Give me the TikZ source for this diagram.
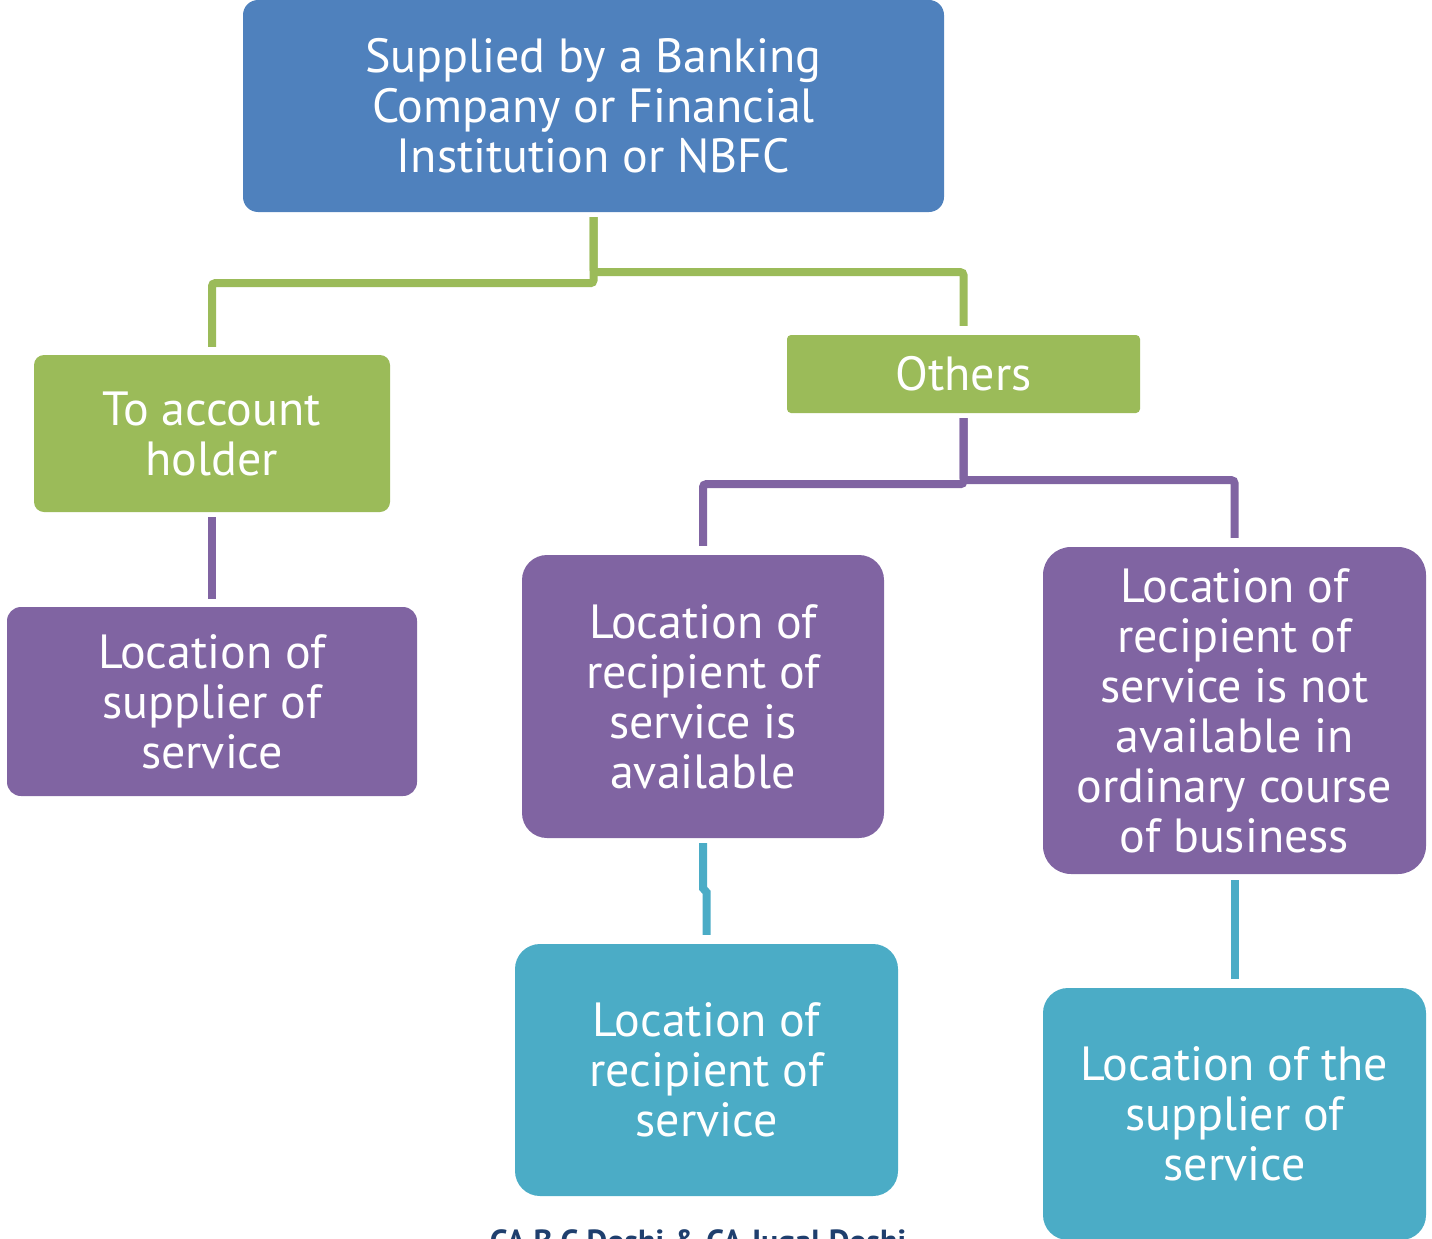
\documentclass[tikz,border=0pt]{standalone}
\usepackage{fontspec}
\setmainfont{PT Sans}
\definecolor{bankblue}{HTML}{4F81BD}
\definecolor{bankgreen}{HTML}{9BBB59}
\definecolor{bankpurple}{HTML}{8064A2}
\definecolor{bankteal}{HTML}{4BACC6}
\definecolor{creditblue}{HTML}{1F3F6E}
\begin{document}
\begin{tikzpicture}[x=1pt,y=-1pt,
    box/.style={rectangle, text=white, align=center, inner sep=0pt,
      font=\fontsize{48}{50}\selectfont},
    link/.style={line width=8pt, rounded corners=3pt}]
    \useasboundingbox (0,0) rectangle (1432,1239);

    \node[box, fill=bankblue, rounded corners=15pt, minimum width=701pt, minimum height=212pt]
      (bank) at (593.5,106) {Supplied by a Banking\\Company or Financial\\Institution or NBFC};
    \node[box, fill=bankgreen, rounded corners=10pt, minimum width=356pt, minimum height=157pt]
      (holder) at (212,433.5) {To account\\holder};
    \node[box, fill=bankgreen, rounded corners=4pt, minimum width=353pt, minimum height=78pt]
      (others) at (963.5,374) {Others};
    \node[box, fill=bankpurple, rounded corners=14pt, minimum width=410pt, minimum height=189pt]
      (supplier) at (212,701.5) {Location of\\supplier of\\service};
    \node[box, fill=bankpurple, rounded corners=25pt, minimum width=362pt, minimum height=283pt]
      (avail) at (703,696.5) {Location of\\recipient of\\service is\\available};
    \node[box, fill=bankpurple, rounded corners=28pt, minimum width=383pt, minimum height=327pt]
      (notavail) at (1234.5,710.5) {Location of\\recipient of\\service is not\\available in\\ordinary course\\of business};
    \node[box, fill=bankteal, rounded corners=25pt, minimum width=383pt, minimum height=252pt]
      (recipient) at (706.5,1070) {Location of\\recipient of\\service};
    \node[box, fill=bankteal, rounded corners=25pt, minimum width=383pt, minimum height=252pt]
      (thesupplier) at (1234.5,1114) {Location of the\\supplier of\\service};
    \node[anchor=north, inner sep=0pt, text=creditblue, font=\fontsize{32}{38}\selectfont\bfseries]
      (credit) at (698,1229) {CA B C Doshi \& CA Jugal Doshi};

    \draw[link, bankgreen] ([yshift=-5pt]bank.south) -- ++(0,66) -| ([yshift=8pt]holder.north);
    \draw[link, bankgreen] ([yshift=-5pt]bank.south) -- ++(0,55) -| ([yshift=9pt]others.north);
    \draw[link, bankpurple] ([yshift=-5pt]holder.south) -- ([yshift=8pt]supplier.north);
    \draw[link, bankpurple] ([yshift=-5pt]others.south) -- ++(0,66) -| ([yshift=9pt]avail.north);
    \draw[link, bankpurple] ([yshift=-5pt]others.south) -- ++(0,62) -| ([yshift=9pt]notavail.north);
    \draw[line width=8pt, bankteal] ([yshift=-5pt]avail.south) -- ++(0,45) -- ++(3.5,4) -- ([yshift=9pt]recipient.north);
    \draw[link, bankteal] ([yshift=-6pt]notavail.south) -- ([yshift=9pt]thesupplier.north);
  \end{tikzpicture}
\end{document}
